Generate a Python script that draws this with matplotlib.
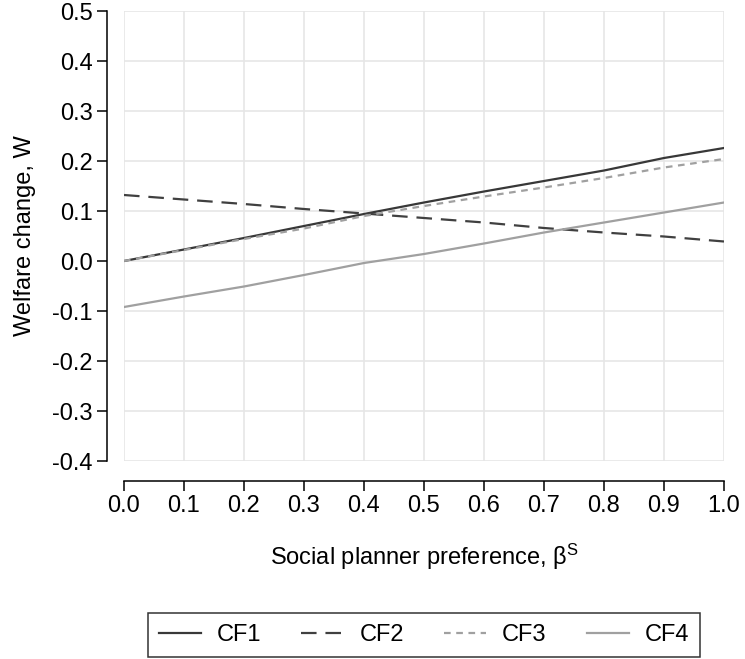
import matplotlib
matplotlib.use("Agg")
import matplotlib.pyplot as plt

plt.rcParams['font.family'] = ['Liberation Sans', 'DejaVu Sans']

# valeurs
beta = [0.0, 0.1, 0.2, 0.3, 0.4, 0.5, 0.6, 0.7, 0.8, 0.9, 1.0]
cf1 = [0.000, 0.023, 0.046, 0.070, 0.094, 0.117, 0.139, 0.160, 0.181, 0.206, 0.226]
cf2 = [0.132, 0.123, 0.114, 0.104, 0.095, 0.086, 0.077, 0.066, 0.057, 0.049, 0.039]
cf3 = [0.000, 0.022, 0.044, 0.065, 0.090, 0.110, 0.129, 0.147, 0.166, 0.187, 0.204]
cf4 = [-0.092, -0.071, -0.051, -0.028, -0.004, 0.014, 0.035, 0.057, 0.077, 0.097, 0.117]

xticks = [0.0, 0.1, 0.2, 0.3, 0.4, 0.5, 0.6, 0.7, 0.8, 0.9, 1.0]
yticks = [-0.4, -0.3, -0.2, -0.1, 0.0, 0.1, 0.2, 0.3, 0.4, 0.5]

fs = 17

fig = plt.figure(figsize=(7.45, 6.59), dpi=100)
ax = fig.add_axes([124 / 745, 1 - 461 / 659, 600 / 745, 450 / 659])

ax.plot(beta, cf1, color='#383838', lw=1.6, label='CF1')
ax.plot(beta, cf2, color='#404040', lw=1.6, dashes=(7, 4), label='CF2')
ax.plot(beta, cf3, color='#a0a0a0', lw=1.6, dashes=(3, 2.5), label='CF3')
ax.plot(beta, cf4, color='#a0a0a0', lw=1.6, label='CF4')

ax.set_xlim(0, 1)
ax.set_ylim(-0.4, 0.5)
ax.set_xticks(xticks)
ax.set_yticks(yticks)
ax.set_xticklabels(['%.1f' % v for v in xticks])
ax.set_yticklabels(['%.1f' % v for v in yticks])

ax.grid(True, color='#e6e6e6', lw=1.2)
ax.set_axisbelow(True)
ax.spines['top'].set_visible(False)
ax.spines['right'].set_visible(False)
ax.spines['left'].set_position(('outward', 12))
ax.spines['bottom'].set_position(('outward', 14.5))
ax.spines['left'].set_linewidth(1.1)
ax.spines['bottom'].set_linewidth(1.1)
ax.tick_params(axis='both', labelsize=fs, length=7, width=1.1, color='black', pad=3.5)
ax.tick_params(axis='x', pad=3)

ax.set_xlabel(r'Social planner preference, $\mathregular{\beta^S}$', fontsize=fs, labelpad=18)
ax.set_ylabel('Welfare change, W', fontsize=fs, labelpad=12)

leg = fig.legend(loc='lower center', bbox_to_anchor=(424 / 745, 2 / 659), ncol=4, fontsize=fs,
                 frameon=True, fancybox=False, edgecolor='black', handlelength=1.78,
                 handletextpad=0.68, columnspacing=1.7, borderpad=0.47, borderaxespad=0)
leg.get_frame().set_linewidth(1.1)

fig.savefig('out.png', dpi=100)
